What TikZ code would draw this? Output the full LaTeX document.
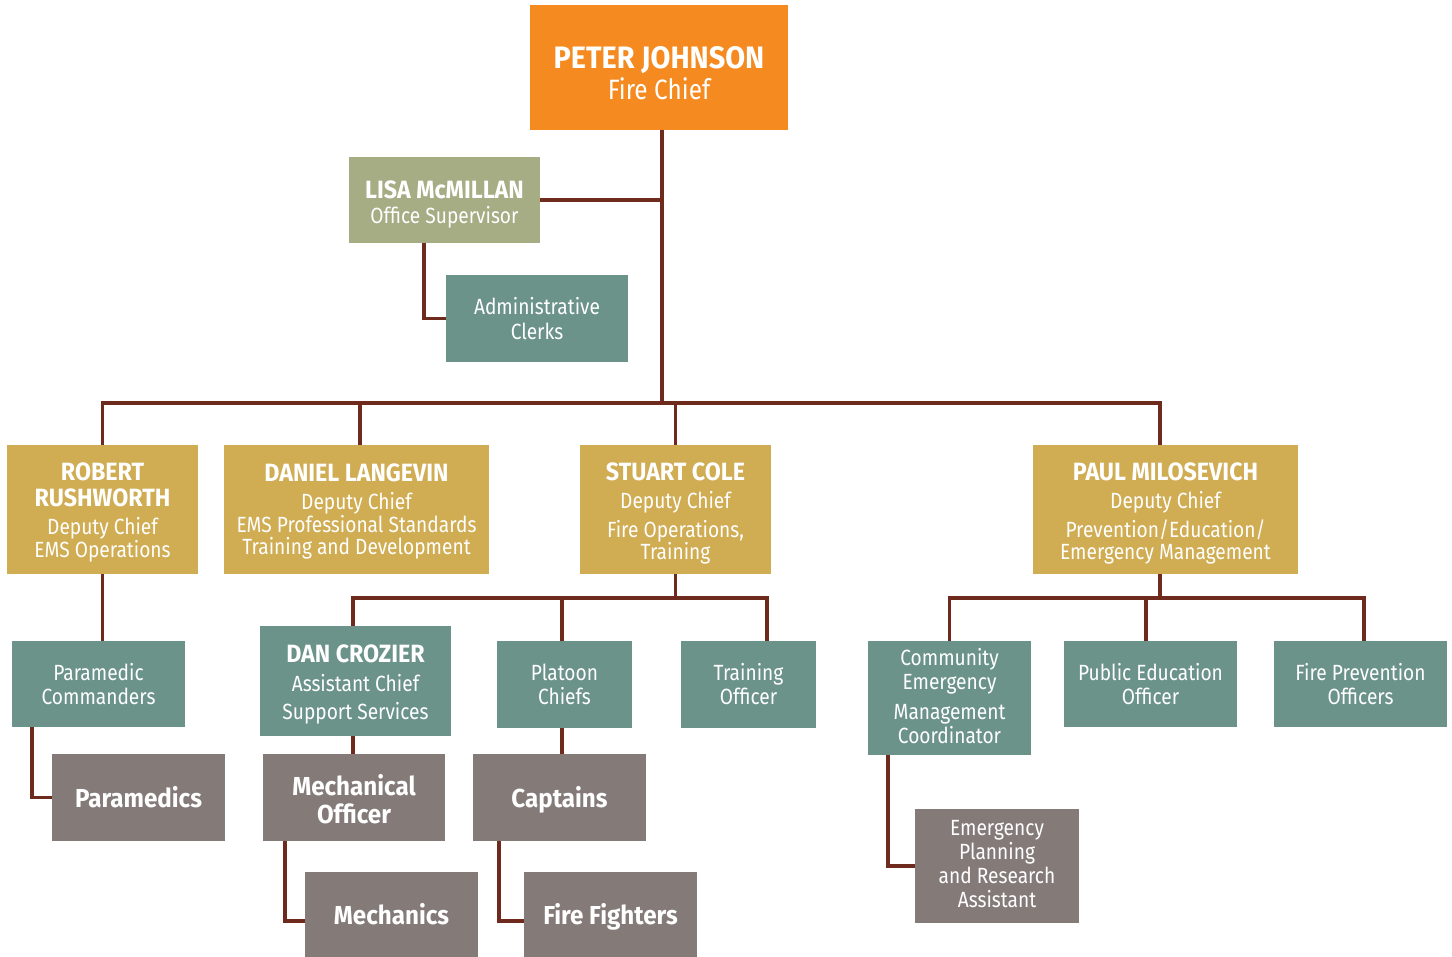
\documentclass[tikz,border=0pt]{standalone}
\usepackage{fontspec}
\setmainfont{Fira Sans}[FakeStretch=0.87, BoldFeatures={FakeStretch=0.93}]
\definecolor{cOrange}{HTML}{F58B20}
\definecolor{cOlive}{HTML}{A6AC84}
\definecolor{cTeal}{HTML}{6B9389}
\definecolor{cGold}{HTML}{D0AC53}
\definecolor{cGray}{HTML}{847B79}
\definecolor{cLine}{HTML}{6E2A1C}
\newcommand\nm{\bfseries\fontsize{25}{25}\selectfont}
\newcommand\bb{\bfseries\fontsize{26}{26}\selectfont}
\newcommand\pj{\bfseries\fontsize{31}{31}\selectfont}
% name, x1, y1, x2, y2, style, text shift, text
\newcommand\bx[8]{\node[#6, minimum width={#4-#2}, minimum height={#5-#3}, anchor=north west] (#1) at (#2,#3) {};
  \node[#6, fill=none] at ([yshift=#7]#1.center) {#8};}
\tikzset{
  box/.style={inner sep=0pt, outer sep=0pt, align=center, text=white, font=\fontsize{22}{24}\selectfont},
  chief/.style={box, fill=cOrange, font=\fontsize{28}{31}\selectfont},
  olive/.style={box, fill=cOlive},
  teal/.style={box, fill=cTeal},
  gold/.style={box, fill=cGold, font=\fontsize{22}{22.5}\selectfont},
  gray/.style={box, fill=cGray},
  conn/.style={draw=cLine, line width=3.6pt}
}
\begin{document}
\begin{tikzpicture}[x=1pt, y=-1pt]
\useasboundingbox (0,0) rectangle (1452,957);
% boxes
\bx{peter}{530}{5}{788}{130}{chief}{-6pt}{\pj PETER JOHNSON\\Fire Chief}
\bx{lisa}{349}{157}{540}{243}{olive,font=\fontsize{22}{25}\selectfont}{-4pt}{\nm LISA McMILLAN\\Office Supervisor}
\bx{admin}{446}{275}{628}{362}{teal,font=\fontsize{22}{25}\selectfont}{0pt}{Administrative\\Clerks}
\bx{robert}{7}{445}{198}{574}{gold}{-3pt}{\nm ROBERT\\[3pt]\nm RUSHWORTH\\[6pt]Deputy Chief\\EMS Operations}
\bx{daniel}{224}{445}{489}{574}{gold}{-2pt}{\nm DANIEL LANGEVIN\\[6pt]Deputy Chief\\EMS Professional Standards\\Training and Development}
\bx{stuart}{580}{445}{771}{574}{gold}{-4pt}{\nm STUART COLE\\[6pt]Deputy Chief\\[6pt]Fire Operations,\\Training}
\bx{paul}{1033}{445}{1298}{574}{gold}{-4pt}{\nm PAUL MILOSEVICH\\[6pt]Deputy Chief\\[6pt]Prevention/Education/\\Emergency Management}
\bx{pc}{12}{641}{185}{727}{teal}{0pt}{Paramedic\\Commanders}
\bx{paramedics}{52}{754}{225}{841}{gray}{0pt}{\bb Paramedics}
\bx{crozier}{260}{626}{451}{736}{teal}{-3pt}{\nm DAN CROZIER\\[5pt]Assistant Chief\\[4pt]Support Services}
\bx{mech}{263}{754}{445}{841}{gray,font=\fontsize{26}{28}\selectfont}{-2pt}{\bb Mechanical\\\bb Officer}
\bx{mechanics}{305}{872}{478}{957}{gray}{0pt}{\bb Mechanics}
\bx{platoon}{497}{641}{632}{728}{teal}{0pt}{Platoon\\Chiefs}
\bx{training}{681}{641}{816}{728}{teal}{0pt}{Training\\Officer}
\bx{captains}{473}{754}{646}{841}{gray}{-2pt}{\bb Captains}
\bx{ff}{524}{872}{697}{957}{gray}{-2pt}{\bb Fire Fighters}
\bx{community}{868}{641}{1031}{755}{teal}{2pt}{Community\\Emergency\\[6pt]Management\\Coordinator}
\bx{pubed}{1064}{641}{1237}{727}{teal}{0pt}{Public Education\\Officer}
\bx{fpo}{1274}{641}{1447}{727}{teal}{0pt}{Fire Prevention\\Officers}
\bx{ep}{915}{809}{1079}{923}{gray}{2pt}{Emergency\\Planning\\and Research\\Assistant}
% connectors
\coordinate (hub) at (662,403);
\coordinate (sbar) at (675,598);
\coordinate (pbar) at (1160,598);
\draw[conn] (peter.south -| hub) -- (hub);
\draw[conn] (lisa.east) -- (lisa.east -| hub);
\draw[conn] ([xshift=-20.5pt]lisa.south) |- (admin.west);
\draw[conn] (robert.north) |- ([xshift=-5.5pt]paul.north |- hub) -- ([xshift=-5.5pt]paul.north);
\draw[conn] ([xshift=3.5pt]daniel.north) -- ([xshift=3.5pt]daniel.north |- hub);
\draw[conn] (stuart.north) -- (stuart.north |- hub);
\draw[conn] (robert.south) -- (robert.south |- pc.north);
\draw[conn] ([xshift=20pt]pc.south west) |- (paramedics.west);
\draw[conn] (stuart.south) -- (stuart.south |- sbar);
\draw[conn] ([xshift=-2.5pt]crozier.north) |- ([xshift=18.5pt]training.north |- sbar) -- ([xshift=18.5pt]training.north);
\draw[conn] ([xshift=-2.5pt]platoon.north) -- ([xshift=-2.5pt]platoon.north |- sbar);
\draw[conn] ([xshift=-2.5pt]crozier.south) -- ([xshift=-2.5pt]crozier.south |- mech.north);
\draw[conn] ([xshift=22pt]mech.south west) |- ([yshift=-6.5pt]mechanics.west);
\draw[conn] ([xshift=-2.5pt]platoon.south) -- ([xshift=-2.5pt]platoon.south |- captains.north);
\draw[conn] ([xshift=26pt]captains.south west) |- ([yshift=-6.5pt]ff.west);
\draw[conn] ([xshift=-5.5pt]paul.south) -- ([xshift=-5.5pt]paul.south |- pbar);
\draw[conn] (community.north) |- ([xshift=3.5pt]fpo.north |- pbar) -- ([xshift=3.5pt]fpo.north);
\draw[conn] ([xshift=-4.5pt]pubed.north) -- ([xshift=-4.5pt]pubed.north |- pbar);
\draw[conn] ([xshift=20pt]community.south west) |- (ep.west);
\end{tikzpicture}
\end{document}
